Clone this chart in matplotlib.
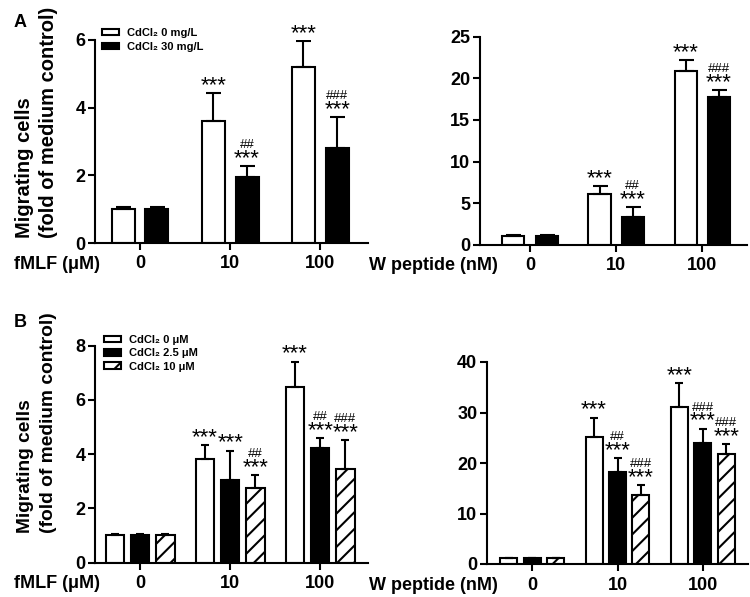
import matplotlib
matplotlib.use("Agg")
import matplotlib.pyplot as plt
from matplotlib.patches import Patch
import numpy as np

plt.rcParams['font.family'] = ['Liberation Sans', 'DejaVu Sans']
plt.rcParams['font.weight'] = 'bold'
plt.rcParams['hatch.linewidth'] = 1.5

doses = ["0", "10", "100"]

# panel A left: fMLF, CdCl2 0 / 30 mg/L
a1_ctrl = [1.01, 3.61, 5.19]
a1_ctrl_err = [0.04, 0.83, 0.77]
a1_cd30 = [1.01, 1.94, 2.81]
a1_cd30_err = [0.04, 0.34, 0.91]
a1_stars = [["", "***", "***"], ["", "***", "***"]]
a1_hash = [["", "", ""], ["", "##", "###"]]

# panel A right: W peptide
a2_ctrl = [1.05, 6.1, 20.9]
a2_ctrl_err = [0.1, 0.95, 1.3]
a2_cd30 = [1.05, 3.33, 17.7]
a2_cd30_err = [0.1, 1.17, 0.85]
a2_stars = [["", "***", "***"], ["", "***", "***"]]
a2_hash = [["", "", ""], ["", "##", "###"]]

# panel B left: fMLF, CdCl2 0 / 2.5 / 10 uM
b1_ctrl = [1.01, 3.83, 6.46]
b1_ctrl_err = [0.03, 0.5, 0.95]
b1_cd25 = [1.02, 3.05, 4.22]
b1_cd25_err = [0.03, 1.08, 0.37]
b1_cd10 = [1.02, 2.77, 3.47]
b1_cd10_err = [0.03, 0.45, 1.06]
b1_stars = [["", "***", "***"], ["", "***", "***"], ["", "***", "***"]]
b1_hash = [["", "", ""], ["", "", "##"], ["", "##", "###"]]

# panel B right: W peptide
b2_ctrl = [1.1, 25.1, 31.0]
b2_ctrl_err = [0.1, 3.9, 4.8]
b2_cd25 = [1.1, 18.15, 23.9]
b2_cd25_err = [0.1, 2.8, 2.9]
b2_cd10 = [1.1, 13.6, 21.7]
b2_cd10_err = [0.1, 2.0, 2.1]
b2_stars = [["", "***", "***"], ["", "***", "***"], ["", "***", "***"]]
b2_hash = [["", "", ""], ["", "##", "###"], ["", "###", "###"]]

legend_a = ["CdCl\u2082 0 mg/L", "CdCl\u2082 30 mg/L"]
legend_b = ["CdCl\u2082 0 \u03bcM", "CdCl\u2082 2.5 \u03bcM", "CdCl\u2082 10 \u03bcM"]

styles = [dict(facecolor="white", hatch=None),
          dict(facecolor="black", hatch=None),
          dict(facecolor="white", hatch="//")]


def panel(ax, values, errs, stars, hashes, width, step, capsize, ymax, yticks, xlim):
    x = np.arange(len(doses))
    n = len(values)
    for i in range(n):
        pos = x + (i - (n - 1) / 2) * step
        st = styles[i]
        ax.bar(pos, values[i], width, color=st["facecolor"], edgecolor="black",
               linewidth=1.5, hatch=st["hatch"], zorder=2)
        ax.errorbar(pos, values[i], yerr=[np.zeros(len(doses)), errs[i]], fmt="none",
                    ecolor="black", elinewidth=1.5, capsize=capsize, capthick=1.5, zorder=3)
        for j in range(len(doses)):
            top = values[i][j] + errs[i][j]
            if stars[i][j]:
                ax.annotate(stars[i][j], (pos[j], top), xytext=(0, 1.5),
                            textcoords="offset points", ha="center", va="baseline",
                            fontsize=16, fontweight="normal", zorder=4)
            if hashes[i][j]:
                ax.annotate(hashes[i][j], (pos[j], top), xytext=(0, 13),
                            textcoords="offset points", ha="center", va="baseline",
                            fontsize=9.5, fontweight="normal", zorder=4)
    ax.set_xlim(*xlim)
    ax.set_ylim(0, ymax)
    ax.set_yticks(yticks)
    ax.set_xticks(x)
    ax.set_xticklabels(doses)
    for s in ["top", "right"]:
        ax.spines[s].set_visible(False)
    for s in ["left", "bottom"]:
        ax.spines[s].set_linewidth(1.5)
    ax.tick_params(direction="out", length=5, width=1.5, labelsize=13)
    ax.tick_params(axis="x", pad=4)
    ax.tick_params(axis="y", pad=2)
    for lab in ax.get_xticklabels() + ax.get_yticklabels():
        lab.set_fontweight("bold")


W, H = 750, 597
fig = plt.figure(figsize=(7.5, 5.97), dpi=100)


def axes_px(x0, x1, ybot, ytop):
    return fig.add_axes([x0 / W, 1 - ybot / H, (x1 - x0) / W, (ybot - ytop) / H])


ax1 = axes_px(95, 368, 243, 40)
panel(ax1, [a1_ctrl, a1_cd30], [a1_ctrl_err, a1_cd30_err], a1_stars, a1_hash,
      0.255, 0.375, 5.4, 6, [0, 2, 4, 6], (-0.5, 2.53))

ax2 = axes_px(480, 747, 244.7, 36.7)
panel(ax2, [a2_ctrl, a2_cd30], [a2_ctrl_err, a2_cd30_err], a2_stars, a2_hash,
      0.256, 0.385, 5.4, 25, [0, 5, 10, 15, 20, 25], (-0.58, 2.52))

ax3 = axes_px(95, 368, 562.7, 345.7)
panel(ax3, [b1_ctrl, b1_cd25, b1_cd10], [b1_ctrl_err, b1_cd25_err, b1_cd10_err],
      b1_stars, b1_hash, 0.205, 0.28, 3.2, 8, [0, 2, 4, 6, 8], (-0.5, 2.53))

ax4 = axes_px(487, 748, 564, 362)
panel(ax4, [b2_ctrl, b2_cd25, b2_cd10], [b2_ctrl_err, b2_cd25_err, b2_cd10_err],
      b2_stars, b2_hash, 0.2, 0.275, 3.2, 40, [0, 10, 20, 30, 40], (-0.53, 2.53))

# legends
handles_a = [Patch(facecolor=styles[i]["facecolor"], edgecolor="black", linewidth=1.5,
                   hatch=styles[i]["hatch"]) for i in range(2)]
fig.legend(handles_a, legend_a, loc="upper left", bbox_to_anchor=(102 / W, 1 - 28 / H),
           frameon=False, fontsize=8, handlelength=1.55, handleheight=0.55,
           labelspacing=0.35, handletextpad=0.7, borderpad=0, borderaxespad=0)
handles_b = [Patch(facecolor=styles[i]["facecolor"], edgecolor="black", linewidth=1.5,
                   hatch=styles[i]["hatch"]) for i in range(3)]
fig.legend(handles_b, legend_b, loc="upper left", bbox_to_anchor=(104 / W, 1 - 335 / H),
           frameon=False, fontsize=8, handlelength=1.55, handleheight=0.55,
           labelspacing=0.3, handletextpad=0.7, borderpad=0, borderaxespad=0)

# axis captions, one text per line so "A"/"B" stay clear of them
for ybase, size in [(238, 14.5), (533, 13.8)]:
    fig.text(25 / W, 1 - ybase / H, "Migrating cells", rotation=90, ha="center",
             va="bottom", fontsize=size, fontweight="bold")
    fig.text(48.5 / W, 1 - ybase / H, "(fold of medium control)", rotation=90,
             ha="center", va="bottom", fontsize=size, fontweight="bold")

fig.text(100 / W, 1 - 269 / H, "fMLF (\u03bcM)", ha="right", va="baseline",
         fontsize=13, fontweight="bold")
fig.text(498 / W, 1 - 270 / H, "W peptide (nM)", ha="right", va="baseline",
         fontsize=13, fontweight="bold")
fig.text(100 / W, 1 - 588 / H, "fMLF (\u03bcM)", ha="right", va="baseline",
         fontsize=13, fontweight="bold")
fig.text(498 / W, 1 - 590 / H, "W peptide (nM)", ha="right", va="baseline",
         fontsize=13, fontweight="bold")

fig.text(14 / W, 1 - 27 / H, "A", ha="left", va="baseline", fontsize=13, fontweight="bold")
fig.text(14 / W, 1 - 327 / H, "B", ha="left", va="baseline", fontsize=13, fontweight="bold")

fig.savefig("out.png", dpi=100)
